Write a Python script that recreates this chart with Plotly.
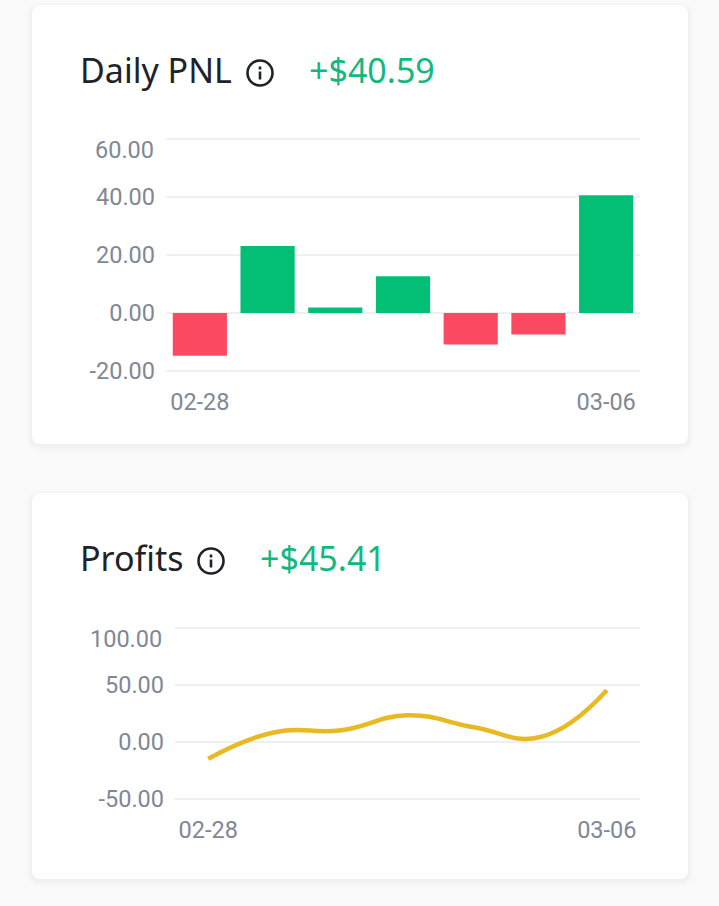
import plotly.graph_objects as go

days = ["02-28", "03-01", "03-02", "03-03", "03-04", "03-05", "03-06"]
shown_days = ["02-28", "03-06"]

daily_pnl = [-14.7, 23.1, 1.9, 12.7, -10.9, -7.4, 40.59]
profits = [-14.7, 8.6, 10.3, 23.4, 12.9, 4.4, 45.41]

pnl_ticks = [-20, 0, 20, 40, 60]
pnl_labels = ["-20.00", "0.00", "20.00", "40.00", ""]
profit_ticks = [-50, 0, 50, 100]
profit_labels = ["-50.00", "0.00", "50.00", ""]

GREEN = "#03bf76"
RED = "#fd4a63"
TEXT_GREEN = "#14b87f"
DARK = "#1e2329"
GRAY = "#7f8896"
GRID = "#eeeff1"
W, H = 719, 906


def px(x):
    return x / W


def py(y):
    return 1 - y / H


shapes = []
annotations = []


def pix_path(x0, y0, x1, y1, r):
    # card corners are worked out in screen pixels, then turned into paper units
    rx, ry = r / W, r / H
    l, rr, t, b = px(x0), px(x1), py(y0), py(y1)
    return (
        f"M{l + rx},{t} L{rr - rx},{t} Q{rr},{t} {rr},{t - ry} L{rr},{b + ry} "
        f"Q{rr},{b} {rr - rx},{b} L{l + rx},{b} Q{l},{b} {l},{b + ry} "
        f"L{l},{t - ry} Q{l},{t} {l + rx},{t} Z"
    )


def add_card(y0, y1):
    # soft shadow, then the white card
    for grow, alpha in [(6, 0.006), (4, 0.010), (2, 0.014)]:
        shapes.append(dict(type="path", xref="paper", yref="paper", layer="below",
                           path=pix_path(32 - grow, y0 - grow + 2, 688 + grow, y1 + grow + 2, 9 + grow),
                           fillcolor=f"rgba(0,0,0,{alpha})", line_width=0))
    shapes.append(dict(type="path", xref="paper", yref="paper", layer="below",
                       path=pix_path(32, y0, 688, y1, 9),
                       fillcolor="#ffffff", line_width=0))


def add_info_icon(cx, cy):
    rx, ry = 12.5 / W, 12.5 / H
    shapes.append(dict(type="circle", xref="paper", yref="paper",
                       x0=px(cx) - rx, x1=px(cx) + rx, y0=py(cy) - ry, y1=py(cy) + ry,
                       line=dict(color=DARK, width=2.6), fillcolor="rgba(0,0,0,0)"))
    shapes.append(dict(type="line", xref="paper", yref="paper",
                       x0=px(cx), x1=px(cx), y0=py(cy - 1.5), y1=py(cy + 6.5),
                       line=dict(color=DARK, width=2.6)))
    shapes.append(dict(type="line", xref="paper", yref="paper",
                       x0=px(cx), x1=px(cx), y0=py(cy - 6.5), y1=py(cy - 3.5),
                       line=dict(color=DARK, width=2.6)))


def add_header(title, value, title_x, value_x, y):
    annotations.append(dict(text=title, xref="paper", yref="paper", x=px(title_x), y=py(y),
                            xanchor="left", yanchor="middle", showarrow=False,
                            font=dict(family="Noto Sans", size=34, color=DARK)))
    annotations.append(dict(text=value, xref="paper", yref="paper", x=px(value_x), y=py(y),
                            xanchor="left", yanchor="middle", showarrow=False,
                            font=dict(family="Noto Sans", size=34, color=TEXT_GREEN)))


add_card(5, 444)
add_card(493, 879)
add_header("Daily PNL", "+$40.59", 78, 307, 70)
add_header("Profits", "+$45.41", 78, 258, 558)
add_info_icon(260, 73)
add_info_icon(211, 561)

# the top label of each chart sits lower than its gridline
annotations.append(dict(text="60.00", xref="paper", yref="paper", x=px(155.5), y=py(150),
                        xanchor="right", yanchor="middle", showarrow=False,
                        font=dict(family="Roboto", size=23.5, color=GRAY)))
annotations.append(dict(text="100.00", xref="paper", yref="paper", x=px(164), y=py(639),
                        xanchor="right", yanchor="middle", showarrow=False,
                        font=dict(family="Roboto", size=23.5, color=GRAY)))

fig = go.Figure()
fig.add_trace(go.Bar(x=days, y=daily_pnl, width=0.8, xaxis="x", yaxis="y",
                     marker=dict(color=[GREEN if v > 0 else RED for v in daily_pnl], line_width=0)))
fig.add_trace(go.Scatter(x=days, y=profits, mode="lines", xaxis="x2", yaxis="y2",
                         line=dict(color="#e8b923", width=4.5, shape="spline", smoothing=1.3)))

tick_font = dict(family="Roboto", size=23.5, color=GRAY)
x_common = dict(type="category", categoryorder="array", categoryarray=days,
                tickmode="array", tickvals=shown_days, ticktext=shown_days,
                showgrid=False, zeroline=False, showline=False, ticks="",
                tickfont=tick_font, ticklabelstandoff=12, fixedrange=True,
                range=[-0.5, 6.5], automargin=False)
y_common = dict(tickmode="array", showgrid=True, gridcolor=GRID, gridwidth=2,
                zeroline=False, showline=False, ticks="", tickfont=tick_font,
                ticklabelstandoff=10, fixedrange=True, automargin=False)

# ranges run a little past the end ticks so the end gridlines are still drawn
fig.update_layout(
    width=W, height=H,
    margin=dict(l=0, r=0, t=0, b=0),
    paper_bgcolor="#fafafa",
    plot_bgcolor="rgba(0,0,0,0)",
    showlegend=False,
    bargap=0.2,
    shapes=shapes,
    annotations=annotations,
    xaxis=dict(domain=[px(166), px(640)], anchor="y", **x_common),
    yaxis=dict(domain=[py(373), py(137)], anchor="x", range=[-20.69, 60.69],
               tickvals=pnl_ticks, ticktext=pnl_labels, **y_common),
    xaxis2=dict(domain=[px(175), px(640)], anchor="y2", **x_common),
    yaxis2=dict(domain=[py(801), py(626)], anchor="x2", range=[-51.75, 101.75],
                tickvals=profit_ticks, ticktext=profit_labels, **y_common),
)

fig.write_html("out.html", config={"displayModeBar": False},
               post_script="document.body.style.margin='0';")
